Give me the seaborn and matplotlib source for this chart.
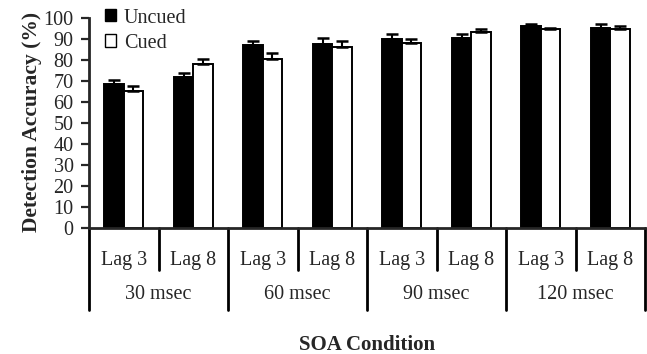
import numpy as np
import pandas as pd
import matplotlib
matplotlib.use("Agg")
import matplotlib.pyplot as plt
import matplotlib.transforms as mtransforms
from matplotlib.patches import Rectangle
import seaborn as sns

# Detection accuracy by SOA condition and lag
soa_groups = ["30 msec", "60 msec", "90 msec", "120 msec"]
lags = ["Lag 3", "Lag 8"]
uncued = [68.5, 72.0, 87.0, 87.5, 89.8, 90.6, 96.2, 95.4]
cued = [65.2, 77.9, 80.6, 86.3, 87.9, 93.5, 94.8, 94.8]
uncued_err = [2.1, 1.7, 2.2, 2.8, 2.4, 1.6, 0.9, 1.6]
cued_err = [2.6, 2.7, 2.9, 2.9, 1.9, 1.5, 0.5, 1.5]
conditions = ["Uncued", "Cued"]
yticks = list(range(0, 101, 10))

cells = [f"{g} {l}" for g in soa_groups for l in lags]
df = pd.DataFrame({
    "cell": cells * 2,
    "accuracy": uncued + cued,
    "cond": ["Uncued"] * len(cells) + ["Cued"] * len(cells),
})
errs = {"Uncued": uncued_err, "Cued": cued_err}

sns.set_style("ticks")
plt.rcParams["font.family"] = ["Liberation Serif", "DejaVu Serif"]

fig = plt.figure(figsize=(6.47, 3.54), dpi=100)
ax = fig.add_axes([89 / 647, 1 - 228 / 354, 556 / 647, 210 / 354])

sns.barplot(data=df, x="cell", y="accuracy", hue="cond", hue_order=conditions,
            palette={"Uncued": "black", "Cued": "white"}, width=0.56,
            edgecolor="black", linewidth=1.4, errorbar=None, ax=ax)

# upward-only error bars on each bar
for cont, cond in zip(ax.containers, conditions):
    xs = [p.get_x() + p.get_width() / 2 for p in cont.patches]
    hs = [p.get_height() for p in cont.patches]
    e = errs[cond]
    ax.errorbar(xs, hs, yerr=[np.zeros(len(e)), e], fmt="none", ecolor="black",
                elinewidth=1.5, capsize=4.2, capthick=1.8, zorder=5)

ax.set_ylim(0, 100)
ax.set_xlim(-0.5, len(cells) - 0.5)
ax.set_yticks(yticks)
ax.set_yticklabels([str(t) for t in yticks])
ax.tick_params(axis="y", direction="out", length=6, width=1.6, labelsize=14.5, pad=5)
ax.set_xticks([])
ax.set_xlabel("")
for s in ["top", "right"]:
    ax.spines[s].set_visible(False)
for s in ["left", "bottom"]:
    ax.spines[s].set_linewidth(2)

ax.set_ylabel("Detection Accuracy (%)", fontsize=15.5, fontweight="bold")
ax.yaxis.set_label_coords(-0.0845, 0.505)

# hierarchical category axis below the bars
trans = mtransforms.blended_transform_factory(ax.transData, ax.transAxes)
for i in range(len(cells) + 1):
    xb = i - 0.5
    bottom = -0.39 if i % 2 == 0 else -0.2
    ax.plot([xb, xb], [0, bottom], color="black", lw=2, transform=trans, clip_on=False)
for i, c in enumerate(cells):
    ax.text(i, -0.155, lags[i % 2], transform=trans, ha="center", va="center", fontsize=14.5)
for j, g in enumerate(soa_groups):
    ax.text(2 * j + 0.5, -0.318, g, transform=trans, ha="center", va="center", fontsize=14.5)
ax.text(0.5, -0.555, "SOA Condition", transform=ax.transAxes, ha="center", va="center",
        fontsize=15, fontweight="bold")

handles = [Rectangle((0, 0), 1, 1, facecolor="black", edgecolor="black", lw=1),
           Rectangle((0, 0), 1, 1, facecolor="white", edgecolor="black", lw=1)]
ax.legend(handles, conditions, loc="upper left", bbox_to_anchor=(0.028, 1.045),
          frameon=False, fontsize=14.5, handlelength=0.55, handleheight=0.55,
          handletextpad=0.4, labelspacing=0.3, borderaxespad=0, borderpad=0)

fig.savefig("out.png", dpi=100, facecolor="white")
